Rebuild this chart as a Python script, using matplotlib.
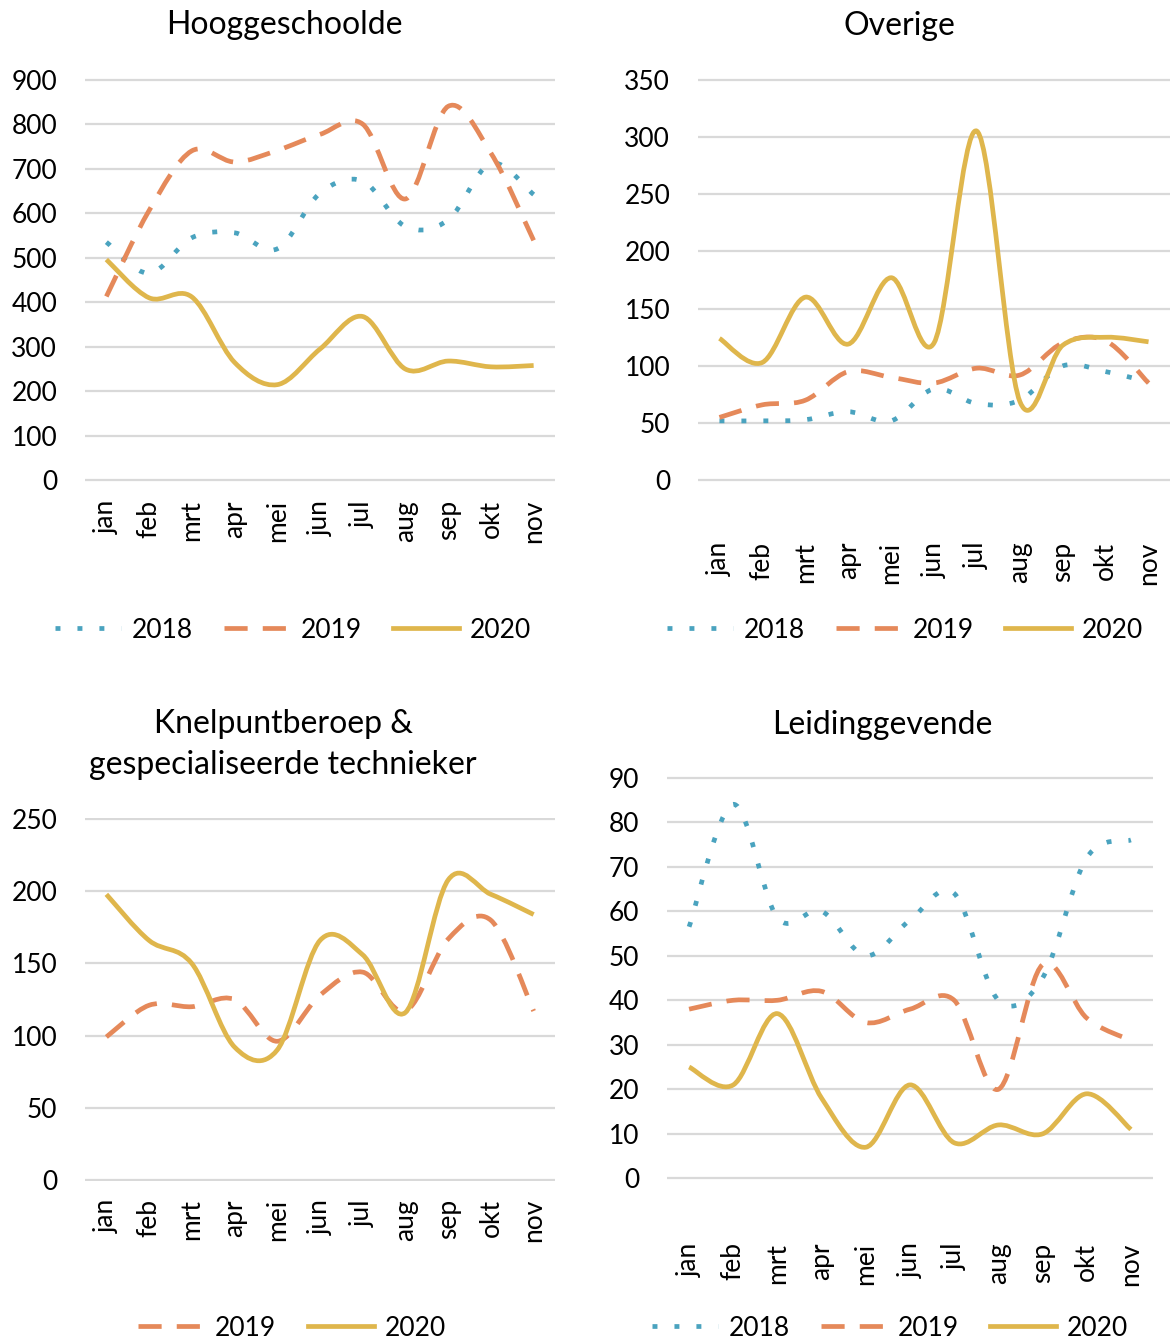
import numpy as np
import matplotlib
matplotlib.use("Agg")
import matplotlib.pyplot as plt
from matplotlib.path import Path
from matplotlib.patches import PathPatch
from matplotlib.lines import Line2D

plt.rcParams['font.family'] = ['Lato', 'DejaVu Sans']

months = ['jan', 'feb', 'mrt', 'apr', 'mei', 'jun', 'jul', 'aug', 'sep', 'okt', 'nov']

# Hooggeschoolde
hoog_2018 = [535, 465, 545, 556, 520, 645, 672, 570, 585, 712, 642]
hoog_2019 = [413, 606, 740, 715, 741, 777, 800, 632, 840, 735, 539]
hoog_2020 = [496, 410, 412, 265, 215, 295, 368, 250, 268, 255, 258]

# Overige
over_2018 = [52, 52, 53, 60, 52, 80, 67, 70, 100, 95, 86]
over_2019 = [55, 66, 70, 95, 90, 85, 98, 92, 120, 122, 85]
over_2020 = [124, 103, 160, 119, 177, 120, 305, 69, 118, 125, 121]

# Knelpuntberoep & gespecialiseerde technieker
knel_2019 = [99, 121, 120, 125, 96, 128, 144, 117, 167, 180, 117]
knel_2020 = [198, 166, 150, 92, 90, 166, 156, 116, 208, 198, 184]

# Leidinggevende
leid_2018 = [56.5, 84, 58.5, 60, 50, 58, 64, 40, 45, 72, 76]
leid_2019 = [38, 40, 40, 42, 35, 38, 40, 20, 48, 36, 31]
leid_2020 = [25, 21, 37, 18, 7, 21, 8, 12, 10, 19, 11]

colors = {'2018': '#4AA3BF', '2019': '#E5895A', '2020': '#DFB64C'}
styles = {'2018': (0, (1.05, 3.6)), '2019': (0, (4.9, 3.2)), '2020': '-'}
LW = 3.4

W, H = 1176, 1342
fig = plt.figure(figsize=(W / 100, H / 100), dpi=100)


def make_ax(left, top, right, bottom):
    return fig.add_axes([left / W, 1 - bottom / H, (right - left) / W, (bottom - top) / H])


def smooth_path(values):
    # Excel style smoothed line: cubic Bezier through the points
    pts = np.column_stack([np.arange(len(values)), values]).astype(float)
    ext = np.vstack([pts[0], pts, pts[-1]])
    verts = [pts[0]]
    codes = [Path.MOVETO]
    for i in range(len(pts) - 1):
        p0, p1, p2, p3 = ext[i], ext[i + 1], ext[i + 2], ext[i + 3]
        verts += [p1 + (p2 - p0) / 6, p2 - (p3 - p1) / 6, p2]
        codes += [Path.CURVE4] * 3
    return Path(verts, codes)


def draw_panel(ax, series, ymax, step, xpad):
    for year, vals in series:
        patch = PathPatch(smooth_path(vals), fill=False, edgecolor=colors[year], lw=LW,
                          linestyle=styles[year], capstyle='butt', joinstyle='round', zorder=3)
        ax.add_patch(patch)
    ax.set_xlim(-0.5, 10.5)
    ax.set_ylim(-ymax * 0.004, ymax * 1.004)
    ax.set_yticks(np.arange(0, ymax + 1, step))
    ax.set_xticks(range(len(months)))
    ax.set_xticklabels(months, rotation=90)
    ax.tick_params(axis='y', length=0, labelsize=19, pad=20)
    ax.tick_params(axis='x', length=0, labelsize=19, pad=xpad)
    ax.grid(axis='y', color='#D9D9D9', lw=1.6)
    ax.set_axisbelow(True)
    for s in ax.spines.values():
        s.set_visible(False)


def legend(years, x, y):
    handles = [Line2D([], [], color=colors[yr], lw=LW, linestyle=styles[yr],
                      dash_capstyle='butt') for yr in years]
    fig.legend(handles, years, loc='center', bbox_to_anchor=(x / W, 1 - y / H), ncol=len(years),
               frameon=False, fontsize=19, handlelength=2.5, handletextpad=0.4,
               columnspacing=1.2, borderpad=0)


TS = 23

ax1 = make_ax(85, 78, 555, 482)
draw_panel(ax1, [('2018', hoog_2018), ('2019', hoog_2019), ('2020', hoog_2020)], 900, 100, 13)
fig.text(284, H - 34, 'Hooggeschoolde', transform=None, ha='center', va='baseline', fontsize=TS)
legend(['2018', '2019', '2020'], 293, 630)

ax2 = make_ax(698, 78, 1170, 482)
draw_panel(ax2, [('2018', over_2018), ('2019', over_2019), ('2020', over_2020)], 350, 50, 43)
fig.text(899, H - 35, 'Overige', transform=None, ha='center', va='baseline', fontsize=TS)
legend(['2018', '2019', '2020'], 905, 630)

ax3 = make_ax(85, 818, 555, 1181)
draw_panel(ax3, [('2019', knel_2019), ('2020', knel_2020)], 250, 50, 13)
fig.text(284, H - 733, 'Knelpuntberoep &', transform=None, ha='center', va='baseline', fontsize=TS)
fig.text(283, H - 774, 'gespecialiseerde technieker', transform=None, ha='center', va='baseline', fontsize=TS)
legend(['2019', '2020'], 292, 1328)

ax4 = make_ax(667, 776, 1153, 1180)
draw_panel(ax4, [('2018', leid_2018), ('2019', leid_2019), ('2020', leid_2020)], 90, 10, 45)
fig.text(882, H - 734, 'Leidinggevende', transform=None, ha='center', va='baseline', fontsize=TS)
legend(['2018', '2019', '2020'], 890, 1328)

fig.savefig('out.png', dpi=100)
